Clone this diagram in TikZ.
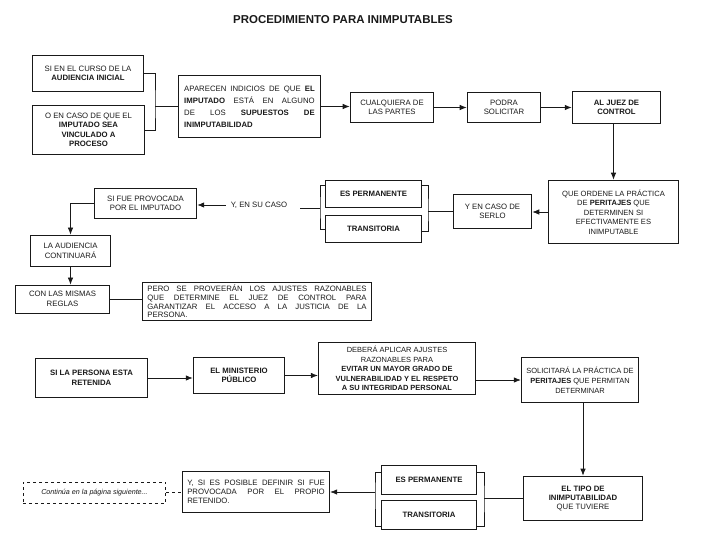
\documentclass[tikz,border=0pt]{standalone}
\usepackage{fontspec}
\setmainfont{Liberation Sans}
\usepackage{tikz}
\usetikzlibrary{calc,positioning,arrows.meta}
\definecolor{tinta}{RGB}{25,25,25}

\tikzset{
  caja/.style={draw=tinta,line width=0.9pt,align=center,inner sep=2pt,
    font=\fontsize{7.8}{9.5}\selectfont},
  nota/.style={align=center,inner sep=1pt,font=\fontsize{7.8}{9.5}\selectfont},
  flecha/.style={-{Latex[length=7pt,width=5.5pt]},line width=0.7pt},
  linea/.style={line width=0.7pt},
  llave/.style={line width=0.7pt}
}

\begin{document}
\begin{tikzpicture}[x=1bp,y=-1bp,tinta]
      \useasboundingbox (0,0) rectangle (720,540);
      \node (titulo) at (343,20) {\fontsize{11.5}{13}\selectfont\bfseries PROCEDIMIENTO PARA INIMPUTABLES};
      % primera parte
      \node[caja,minimum width=112,minimum height=37] (A1) at (88,73.5)
            {SI EN EL CURSO DE LA\\ \textbf{AUDIENCIA INICIAL}};
      \node[caja,minimum width=113,minimum height=50] (A2) at (88.5,130)
            {O EN CASO DE QUE EL\\ \textbf{IMPUTADO SEA}\\ \textbf{VINCULADO A}\\ \textbf{PROCESO}};
      \node[caja,minimum width=143,minimum height=63,text width=131,align=justify,
            font=\fontsize{7.8}{12}\selectfont] (B) at (249.5,106.5)
            {APARECEN INDICIOS DE QUE \textbf{EL}\linebreak \textbf{IMPUTADO} ESTÁ EN ALGUNO\linebreak DE LOS \textbf{SUPUESTOS DE}\linebreak \textbf{INIMPUTABILIDAD}};
      \node[caja,minimum width=84,minimum height=31] (C) at (392,107.5) {CUALQUIERA DE\\ LAS PARTES};
      \node[caja,minimum width=74,minimum height=31] (D) at (504,107.5) {PODRA\\ SOLICITAR};
      \node[caja,minimum width=89,minimum height=33] (E) at (616.5,107.5) {\textbf{AL JUEZ DE}\\ \textbf{CONTROL}};
      \node[caja,minimum width=131,minimum height=64,font=\fontsize{7.6}{9.6}\selectfont] (F) at (613.5,212)
            {QUE ORDENE LA PRÁCTICA\\ DE \textbf{PERITAJES} QUE\\ DETERMINEN SI\\ EFECTIVAMENTE ES\\ INIMPUTABLE};
      \node[caja,minimum width=79,minimum height=35] (G) at (492.5,211.5) {Y EN CASO DE\\ SERLO};
      \node[caja,minimum width=97,minimum height=28] (ES1) at (373.5,194) {\textbf{ES PERMANENTE}};
      \node[caja,minimum width=97,minimum height=28] (TR1) at (373.5,229) {\textbf{TRANSITORIA}};
      \node[nota] (caso) at (259,205) {Y, EN SU CASO};
      \node[caja,minimum width=103,minimum height=31] (H) at (145.5,203.5) {SI FUE PROVOCADA\\ POR EL IMPUTADO};
      \node[caja,minimum width=81,minimum height=32] (I) at (70.5,251) {LA AUDIENCIA\\ CONTINUARÁ};
      \node[caja,minimum width=95,minimum height=28] (J) at (62.5,299) {CON LAS MISMAS\\ REGLAS};
      \node[caja,minimum width=230,minimum height=39,text width=220,align=justify,
            font=\fontsize{7.8}{8.6}\selectfont] (K) at (257,301.5)
            {PERO SE PROVEERÁN LOS AJUSTES RAZONABLES\linebreak QUE DETERMINE EL JUEZ DE CONTROL PARA\linebreak GARANTIZAR EL ACCESO A LA JUSTICIA DE LA\linebreak PERSONA.};
      \coordinate (junta) at (155,106.5);
      \coordinate (derE1) at (428,211.5);
      \coordinate (izqE1) at (320,208);
      \draw[linea] (A1.east) -| (junta) |- (A2.east);
      \draw[linea] (junta) -- (B.west);
      \draw[flecha] (B.east) -- (B.east -| C.west);
      \draw[flecha] (C.east) -- (D.west);
      \draw[flecha] (D.east) -- (D.east -| E.west);
      \draw[flecha] (F.north |- E.south) -- (F.north);
      \draw[flecha] (F.west) -- (F.west -| G.east);
      \draw[llave] ($(ES1.north east)+(0,6)$) -| (derE1) |- ($(TR1.south east)+(0,-12)$);
      \draw[llave] ($(ES1.north west)+(0,6)$) -| (izqE1) |- ($(TR1.south west)+(0,-14)$);
      \draw[linea] (G.west) -- (G.west -| derE1);
      \draw[linea,shorten >=12bp] (izqE1) -- (izqE1 -| caso.east);
      \draw[flecha,shorten <=4bp] (caso.west) -- (caso.west -| H.east);
      \draw[flecha] (H.west) -| (I.north);
      \draw[flecha] (I.south) -- (I.south |- J.north);
      \draw[linea] (J.east) -- (J.east -| K.west);
      % segunda parte
      \node[caja,minimum width=113,minimum height=40] (L) at (91.5,378) {\textbf{SI LA PERSONA ESTA}\\ \textbf{RETENIDA}};
      \node[caja,minimum width=92,minimum height=37] (M) at (239,375.5) {\textbf{EL MINISTERIO}\\ \textbf{PÚBLICO}};
      \node[caja,minimum width=158,minimum height=53,font=\fontsize{7.5}{9.6}\selectfont] (N) at (397,368.5)
            {DEBERÁ APLICAR AJUSTES\\ RAZONABLES PARA\\ \textbf{EVITAR UN MAYOR GRADO DE}\\ \textbf{VULNERABILIDAD Y EL RESPETO}\\ \textbf{A SU INTEGRIDAD PERSONAL}};
      \node[caja,minimum width=118,minimum height=46,font=\fontsize{7.5}{10}\selectfont] (O) at (580,380)
            {SOLICITARÁ LA PRÁCTICA DE\\ \textbf{PERITAJES} QUE PERMITAN\\ DETERMINAR};
      \node[caja,minimum width=120,minimum height=45] (P) at (583,498.5)
            {\textbf{EL TIPO DE}\\ \textbf{INIMPUTABILIDAD}\\ QUE TUVIERE};
      \node[caja,minimum width=96,minimum height=29] (ES2) at (429,479.5) {\textbf{ES PERMANENTE}};
      \node[caja,minimum width=96,minimum height=30] (TR2) at (429,515) {\textbf{TRANSITORIA}};
      \node[caja,minimum width=148,minimum height=42,text width=138,align=justify,
            font=\fontsize{7.8}{9}\selectfont] (Q) at (256,492)
            {Y, SI ES POSIBLE DEFINIR SI FUE\linebreak PROVOCADA POR EL PROPIO\linebreak RETENIDO.};
      \node[caja,dashed,minimum width=143,minimum height=21,font=\fontsize{7.2}{8}\selectfont\itshape] (R) at (94.5,492.5)
            {Continúa en la página siguiente...};
      \coordinate (derE2) at (484,498.5);
      \coordinate (izqE2) at (375,492);
      \draw[flecha] (L.east) -- (L.east -| M.west);
      \draw[flecha] (M.east) -- (M.east -| N.west);
      \draw[flecha] (N.east |- O.west) -- (O.west);
      \draw[flecha] (P.north |- O.south) -- (P.north);
      \draw[llave] ($(ES2.north east)+(0,8)$) -| (derE2) |- ($(TR2.south east)+(0,-4)$);
      \draw[llave] ($(ES2.north west)+(0,8)$) -| (izqE2) |- ($(TR2.south west)+(0,-4)$);
      \draw[linea] (P.west) -- (P.west -| derE2);
      \draw[flecha] (izqE2) -- (izqE2 -| Q.east);
      \draw[line width=1.2pt,dashed] (R.east) -- (R.east -| Q.west);
    \end{tikzpicture}
\end{document}
